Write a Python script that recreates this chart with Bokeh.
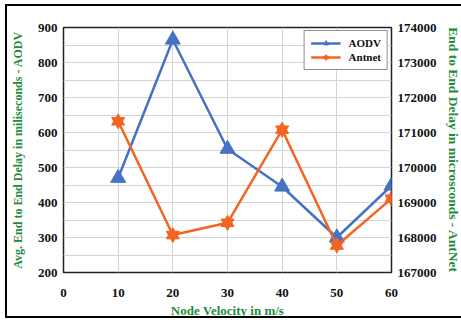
from bokeh.plotting import figure
from bokeh.models import (Range1d, LinearAxis, FixedTicker, Legend, LegendItem,
                          BasicTickFormatter)
from bokeh.embed import file_html
from bokeh.resources import INLINE

# ---- data ----
velocity = [10, 20, 30, 40, 50, 60]
aodv_delay_ms = [470, 865, 553, 445, 300, 448]
antnet_delay_us = [171320, 168070, 168420, 171080, 167770, 169110]
x_ticks = [0, 10, 20, 30, 40, 50, 60]
left_ticks = [200, 300, 400, 500, 600, 700, 800, 900]
right_ticks = [167000, 168000, 169000, 170000, 171000, 172000, 173000, 174000]
series_names = ["AODV", "Antnet"]
x_title = "Node Velocity in m/s"
left_title = "Avg. End to End Delay in miliseconds - AODV"
right_title = "End to End Delay in microsconds - AntNet"

# page geometry (pixels)
ML, MT = 5, 4          # margin before the outer frame
BW = 2                 # outer frame width
W, H = 461 - ML, 318 - MT
CX, CY = ML + BW, MT + BW          # canvas origin on page
FL, FR, FT, FB = 59, 392, 27, 270  # plot frame edges on page
CW, CH = W - BW, H - 2 * BW        # canvas size

BLUE = "#4472C4"
ORANGE = "#F26522"
GREEN = "#1E8C3C"
FONT = "Liberation Serif"

p = figure(width=W, height=H, output_backend="svg", toolbar_location=None,
           x_range=Range1d(0, 60), y_range=Range1d(200, 900),
           min_border_left=FL - CX, min_border_right=CX + CW - FR,
           min_border_top=FT - CY, min_border_bottom=CY + CH - FB)
p.margin = (MT, 0, 0, ML)
p.extra_y_ranges = {"ant": Range1d(167000, 174000)}
p.background_fill_color = "white"
p.border_fill_color = "white"
p.outline_line_color = "#222222"
p.outline_line_width = 1.5
p.styles = {"border-top": f"{BW}px solid black", "border-left": f"{BW}px solid black",
            "border-bottom": f"{BW}px solid black", "box-sizing": "border-box"}

# axes
p.xaxis.ticker = FixedTicker(ticks=x_ticks)
p.yaxis.ticker = FixedTicker(ticks=left_ticks)
right_axis = LinearAxis(y_range_name="ant", ticker=FixedTicker(ticks=right_ticks),
                        formatter=BasicTickFormatter(use_scientific=False))
p.add_layout(right_axis, "right")
for ax in [p.xaxis[0], p.yaxis[0], right_axis]:
    ax.major_tick_in = 0
    ax.major_tick_out = 0
    ax.minor_tick_in = 0
    ax.minor_tick_out = 0
    ax.axis_line_color = None
    ax.major_label_text_font = FONT
    ax.major_label_text_font_style = "bold"
    ax.major_label_text_font_size = "13px"
    ax.major_label_text_color = "#111111"
    ax.major_label_standoff = 6
    ax.axis_label_text_font = FONT
    ax.axis_label_text_font_style = "bold"
    ax.axis_label_text_color = GREEN

p.xaxis[0].axis_label = x_title
p.xaxis[0].axis_label_text_font_size = "13px"
p.xaxis[0].major_label_standoff = 16
p.xaxis[0].axis_label_standoff = 3

p.yaxis[0].axis_label = left_title
p.yaxis[0].axis_label_text_font_size = "12px"
p.yaxis[0].axis_label_standoff = 10

right_axis.axis_label = right_title
right_axis.axis_label_text_font_size = "13.5px"
right_axis.axis_label_standoff = 6

p.xgrid.ticker = FixedTicker(ticks=x_ticks)
p.ygrid.ticker = FixedTicker(ticks=list(range(200, 901, 50)))
p.xgrid.grid_line_color = "#d4d4d4"
p.ygrid.grid_line_color = "#d4d4d4"
p.xgrid.grid_line_width = 1
p.ygrid.grid_line_width = 1

# series
l1 = p.line(velocity, aodv_delay_ms, line_color=BLUE, line_width=2.5)
m1 = p.scatter(velocity, aodv_delay_ms, marker="triangle", size=15,
               fill_color=BLUE, line_color=BLUE)
l2 = p.line(velocity, antnet_delay_us, line_color=ORANGE, line_width=2.5,
            y_range_name="ant")
m2a = p.scatter(velocity, antnet_delay_us, marker="triangle", size=13,
                fill_color=ORANGE, line_color=ORANGE, y_range_name="ant")
m2b = p.scatter(velocity, antnet_delay_us, marker="inverted_triangle", size=13,
                fill_color=ORANGE, line_color=ORANGE, y_range_name="ant")

legend = Legend(items=[LegendItem(label=series_names[0], renderers=[l1, m1]),
                       LegendItem(label=series_names[1], renderers=[l2, m2a, m2b])],
                location="top_right")
legend.margin = 3
legend.padding = 6
legend.spacing = 2
legend.glyph_width = 30
legend.glyph_height = 12
legend.label_height = 12
legend.label_standoff = 8
legend.label_text_font = FONT
legend.label_text_font_style = "bold"
legend.label_text_font_size = "11px"
legend.label_text_color = "#111111"
legend.border_line_color = "#222222"
legend.border_line_width = 1.5
legend.background_fill_alpha = 1
p.add_layout(legend, "center")

open("out.html", "w").write(file_html(p, INLINE))
